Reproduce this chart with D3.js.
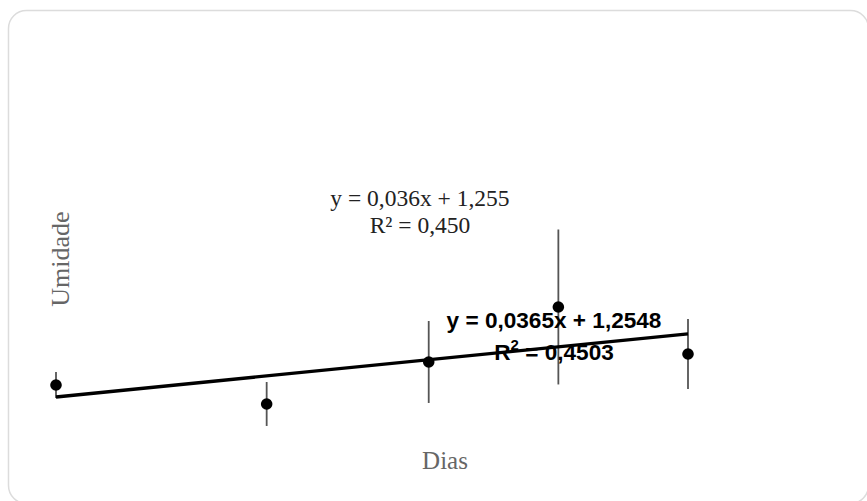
<!DOCTYPE html>
<html>
<head>
<meta charset="utf-8">
<script src="https://cdn.jsdelivr.net/npm/d3@7"></script>
<style>
  html, body { margin: 0; padding: 0; background: #fff; }
  svg { display: block; }
</style>
</head>
<body>
<svg id="chart" width="867" height="501"></svg>
<script>
// Measurement days and mean humidity with its spread
const dias = [0, 13, 23, 31, 39];
const umidade = [1.525, 1.097, 2.043, 3.282, 2.223];
const erro = [0.293, 0.495, 0.923, 1.745, 0.788];

// Linear trend reported for the series
const slope = 0.0365;
const intercept = 1.2548;
const r2 = 0.4503;

const eqTexto = ["y = 0,036x + 1,255", "R² = 0,450"];
const eqTendencia = "y = 0,0365x + 1,2548";
const r2Texto = "0,4503";

const W = 867, H = 501;
const margin = { top: 8.7, right: 179, bottom: 48.3, left: 56 };

const svg = d3.select("#chart");

// card frame
svg.append("rect")
  .attr("x", 8.5).attr("y", 10.5)
  .attr("width", 860).attr("height", 493)
  .attr("rx", 18).attr("ry", 18)
  .attr("fill", "#fff")
  .attr("stroke", "#dcdcdc")
  .attr("stroke-width", 1.5);

const x = d3.scaleLinear()
  .domain([d3.min(dias), d3.max(dias)])
  .range([margin.left, W - margin.right]);

const y = d3.scaleLinear()
  .domain([0, 10])
  .range([H - margin.bottom, margin.top]);

const pts = dias.map((d, i) => ({ x: d, y: umidade[i], e: erro[i] }));

// error bars
svg.append("g")
  .selectAll("line")
  .data(pts)
  .join("line")
  .attr("x1", d => x(d.x)).attr("x2", d => x(d.x))
  .attr("y1", d => y(d.y - d.e)).attr("y2", d => y(d.y + d.e))
  .attr("stroke", "#555")
  .attr("stroke-width", 1.8);

// trend line
const xd = x.domain();
svg.append("line")
  .attr("x1", x(xd[0])).attr("y1", y(slope * xd[0] + intercept))
  .attr("x2", x(xd[1])).attr("y2", y(slope * xd[1] + intercept))
  .attr("stroke", "#000")
  .attr("stroke-width", 3.3);

// mean points
svg.append("g")
  .selectAll("circle")
  .data(pts)
  .join("circle")
  .attr("cx", d => x(d.x))
  .attr("cy", d => y(d.y))
  .attr("r", 5.8)
  .attr("fill", "#000");

// axis titles
svg.append("text")
  .attr("transform", "translate(69,259) rotate(-90)")
  .attr("text-anchor", "middle")
  .attr("font-family", "'Liberation Serif', 'Times New Roman', serif")
  .attr("font-size", 26)
  .attr("fill", "#666")
  .text("Umidade");

svg.append("text")
  .attr("x", 445).attr("y", 469)
  .attr("text-anchor", "middle")
  .attr("font-family", "'Liberation Serif', 'Times New Roman', serif")
  .attr("font-size", 25)
  .attr("fill", "#666")
  .text("Dias");

// rounded equation summary
const eq = svg.append("text")
  .attr("text-anchor", "middle")
  .attr("font-family", "'Liberation Serif', 'Times New Roman', serif")
  .attr("font-size", 23.5)
  .attr("fill", "#222");
eq.selectAll("tspan")
  .data(eqTexto)
  .join("tspan")
  .attr("x", 420)
  .attr("y", (d, i) => 206 + i * 27)
  .text(d => d);

// trendline label
const lbl = svg.append("text")
  .attr("text-anchor", "middle")
  .attr("font-family", "'Liberation Sans', Arial, sans-serif")
  .attr("font-weight", "bold")
  .attr("font-size", 22.6)
  .attr("fill", "#000");
lbl.append("tspan").attr("x", 554).attr("y", 328).text(eqTendencia);
const l2 = lbl.append("tspan").attr("x", 554).attr("y", 360);
l2.append("tspan").text("R");
l2.append("tspan").attr("dy", -10).attr("font-size", 15).text("2");
l2.append("tspan").attr("dy", 10).text(" = " + r2Texto);
</script>
</body>
</html>
